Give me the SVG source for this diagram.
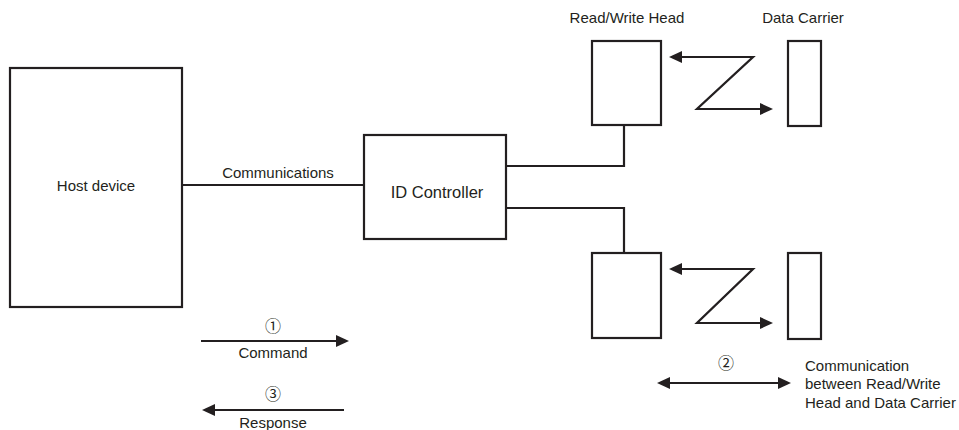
<svg xmlns="http://www.w3.org/2000/svg" width="959" height="430" viewBox="0 0 959 430">
<defs>
<style>
.box{fill:#fff;stroke:#231f20;stroke-width:2.2}
.ln{fill:none;stroke:#231f20;stroke-width:2.2}
.ar{fill:none;stroke:#231f20;stroke-width:2.2;marker-end:url(#ah)}
.ar2{fill:none;stroke:#231f20;stroke-width:2.2;marker-start:url(#ah);marker-end:url(#ah)}
.t{font-family:"Liberation Sans",Arial,"Noto Sans CJK JP",sans-serif;font-size:15px;fill:#231f20}
.m{text-anchor:middle}
.n{font-family:"Noto Sans CJK JP","Noto Sans CJK SC",sans-serif;font-size:16px;fill:#231f20;text-anchor:middle}
</style>
<marker id="ah" viewBox="0 0 13 12" refX="5" refY="6" markerWidth="13" markerHeight="12" markerUnits="userSpaceOnUse" orient="auto-start-reverse">
<path d="M0,0 L13,6 L0,12 Z" fill="#231f20"/>
</marker>
</defs>
<g id="connectors">
<line class="ln" x1="182" y1="185" x2="364" y2="185"/>
<polyline class="ln" points="506,166 624,166 624,125"/>
<polyline class="ln" points="506,208 624,208 624,253"/>
<path class="ar2" d="M677,57 L753,57 L697,109 L765,109"/>
<path class="ar2" d="M677,269 L753,269 L697,323 L765,323"/>
<line class="ar" x1="201" y1="341" x2="341" y2="341"/>
<line class="ar" x1="344" y1="410" x2="210" y2="410"/>
<line class="ar2" x1="665" y1="383" x2="783" y2="383"/>
<text class="t m" x="278" y="178">Communications</text>
<text class="n" x="273" y="332">①</text>
<text class="t m" x="273" y="358">Command</text>
<text class="n" x="273" y="400">③</text>
<text class="t m" x="273" y="428">Response</text>
<text class="n" x="726" y="369">②</text>
<text class="t" x="805" y="371">Communication</text>
<text class="t" x="805" y="389">between Read/Write</text>
<text class="t" x="805" y="408">Head and Data Carrier</text>
</g>
<g id="host">
<rect class="box" x="10" y="68" width="172" height="239"/>
<text class="t m" x="96" y="191">Host device</text>
</g>
<g id="controller">
<rect class="box" x="364" y="135" width="142" height="104"/>
<text class="t m" x="437" y="198" style="font-size:16.5px">ID Controller</text>
</g>
<g id="head1">
<rect class="box" x="592" y="41" width="69" height="84"/>
<text class="t m" x="627" y="23">Read/Write Head</text>
</g>
<g id="carrier1">
<rect class="box" x="788" y="41" width="33" height="85"/>
<text class="t m" x="803" y="23">Data Carrier</text>
</g>
<g id="head2">
<rect class="box" x="592" y="253" width="69" height="85"/>
</g>
<g id="carrier2">
<rect class="box" x="788" y="253" width="33" height="86"/>
</g>
</svg>
